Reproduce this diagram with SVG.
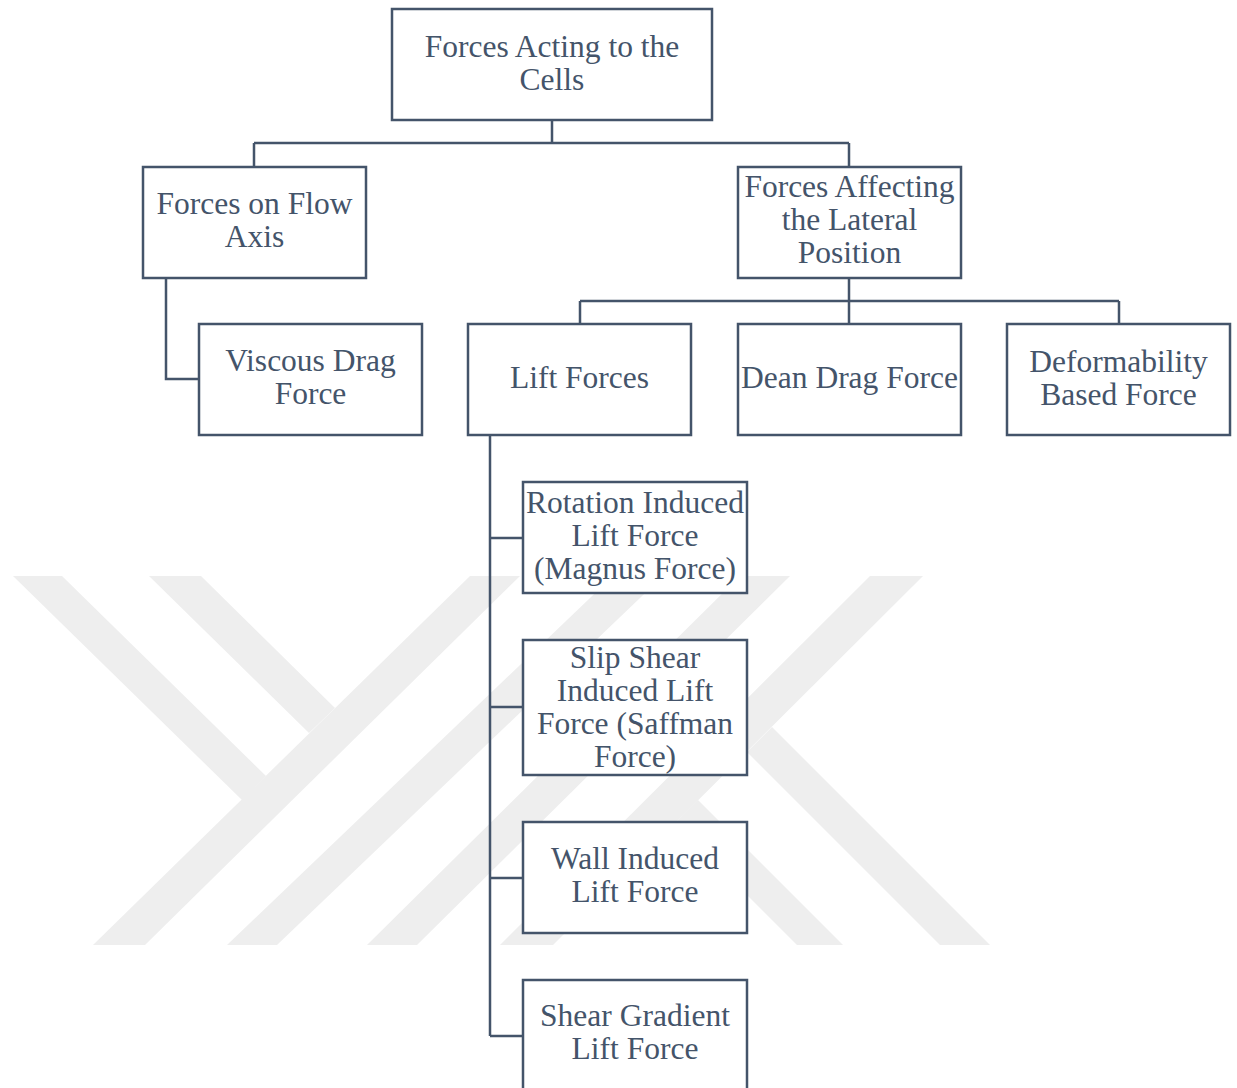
<svg xmlns="http://www.w3.org/2000/svg" width="1237" height="1088" viewBox="0 0 1237 1088">
  <style>
    .box { fill: #ffffff; stroke: #44546a; stroke-width: 2.5; }
    .lbl { font-family: "Liberation Serif", "Times New Roman", serif; font-size: 31.5px; fill: #44546a; text-anchor: middle; }
    .wire { fill: none; stroke: #44546a; stroke-width: 2.5; }
    .mark { fill: #eeeeee; }
  </style>

  <rect width="1237" height="1088" fill="#ffffff"/>

  <!-- faint background emblem -->
  <g id="emblem">
    <polygon class="mark" points="93,945 145,945 520,576 470,576"/>
    <polygon class="mark" points="13,576 62,576 266,776 242,800"/>
    <polygon class="mark" points="149,576 201,576 335,708 309,733"/>
    <polygon class="mark" points="227,945 277,945 663,576 613,576"/>
    <polygon class="mark" points="367,945 417,945 790,576 740,576"/>
    <polygon class="mark" points="500,945 553,945 923,576 870,576"/>
    <polygon class="mark" points="698,800 843,945 797,945 675,823"/>
    <polygon class="mark" points="772,727 990,945 940,945 747,752"/>
  </g>

  <!-- connectors -->
  <g id="connectors">
    <path class="wire" d="M552,120 V143 M254,143 H849 M254,143 V167 M849,143 V167"/>
    <path class="wire" d="M166,278 V379 H199"/>
    <path class="wire" d="M849,278 V301 M580,301 H1119 M580,301 V324 M849,301 V324 M1119,301 V324"/>
    <path class="wire" d="M490,435 V1036 M490,538 H523 M490,707 H523 M490,878 H523 M490,1036 H523"/>
  </g>

  <g id="node-root">
    <rect class="box" x="392" y="9" width="320" height="111"/>
    <text class="lbl" x="552" y="57">Forces Acting to the</text>
    <text class="lbl" x="552" y="90">Cells</text>
  </g>

  <g id="node-flow-axis">
    <rect class="box" x="143" y="167" width="223" height="111"/>
    <text class="lbl" x="254.5" y="214">Forces on Flow</text>
    <text class="lbl" x="254.5" y="247">Axis</text>
  </g>

  <g id="node-lateral">
    <rect class="box" x="738" y="167" width="223" height="111"/>
    <text class="lbl" x="849.5" y="197">Forces Affecting</text>
    <text class="lbl" x="849.5" y="230">the Lateral</text>
    <text class="lbl" x="849.5" y="263">Position</text>
  </g>

  <g id="node-viscous">
    <rect class="box" x="199" y="324" width="223" height="111"/>
    <text class="lbl" x="310.5" y="371">Viscous Drag</text>
    <text class="lbl" x="310.5" y="404">Force</text>
  </g>

  <g id="node-lift">
    <rect class="box" x="468" y="324" width="223" height="111"/>
    <text class="lbl" x="579.5" y="388">Lift Forces</text>
  </g>

  <g id="node-dean">
    <rect class="box" x="738" y="324" width="223" height="111"/>
    <text class="lbl" x="849.5" y="388">Dean Drag Force</text>
  </g>

  <g id="node-deform">
    <rect class="box" x="1007" y="324" width="223" height="111"/>
    <text class="lbl" x="1118.5" y="372">Deformability</text>
    <text class="lbl" x="1118.5" y="405">Based Force</text>
  </g>

  <g id="node-rotation">
    <rect class="box" x="523" y="482" width="224" height="111"/>
    <text class="lbl" x="635" y="513">Rotation Induced</text>
    <text class="lbl" x="635" y="546">Lift Force</text>
    <text class="lbl" x="635" y="579">(Magnus Force)</text>
  </g>

  <g id="node-slip-shear">
    <rect class="box" x="523" y="640" width="224" height="135"/>
    <text class="lbl" x="635" y="668">Slip Shear</text>
    <text class="lbl" x="635" y="701">Induced Lift</text>
    <text class="lbl" x="635" y="734">Force (Saffman</text>
    <text class="lbl" x="635" y="767">Force)</text>
  </g>

  <g id="node-wall">
    <rect class="box" x="523" y="822" width="224" height="111"/>
    <text class="lbl" x="635" y="869">Wall Induced</text>
    <text class="lbl" x="635" y="902">Lift Force</text>
  </g>

  <g id="node-shear-gradient">
    <rect class="box" x="523" y="980" width="224" height="111"/>
    <text class="lbl" x="635" y="1026">Shear Gradient</text>
    <text class="lbl" x="635" y="1059">Lift Force</text>
  </g>
</svg>
